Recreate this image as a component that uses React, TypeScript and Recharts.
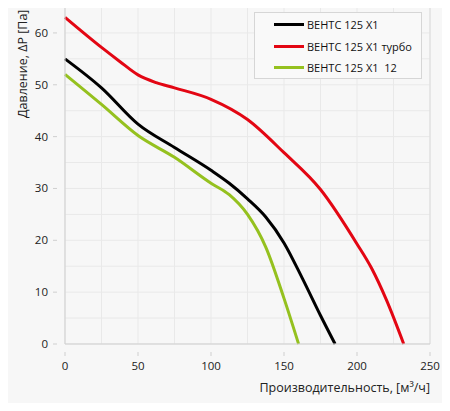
import React from "react";
import {
  LineChart,
  Line,
  XAxis,
  YAxis,
  CartesianGrid,
  ReferenceLine,
} from "recharts";

// Performance curves (flow m³/h -> pressure Pa)
const baseFlow = [0, 25, 50, 75, 100, 112.5, 125, 137.5, 150, 162.5, 175, 185];
const basePressure = [55, 49.4, 42.4, 37.9, 33.5, 31, 28, 24.5, 19.5, 12.7, 5.5, 0];

const turboFlow = [0, 25, 37.5, 50, 62.5, 75, 100, 125, 150, 175, 200, 210, 220, 232];
const turboPressure = [63, 57.2, 54.5, 51.9, 50.4, 49.4, 47.2, 43.3, 36.9, 29.8, 19.3, 14.6, 8.6, 0];

const v12Flow = [0, 25, 50, 75, 100, 112.5, 125, 137.5, 150, 160];
const v12Pressure = [52, 46.2, 40.2, 36, 31, 28.8, 25, 18.7, 8.8, 0];

const seriesNames = ["ВЕНТС 125 Х1", "ВЕНТС 125 Х1 турбо", "ВЕНТС 125 Х1  12"];
const seriesColors = ["#000000", "#e30613", "#95c11f"];

const xTicks = [0, 25, 50, 75, 100, 125, 150, 175, 200, 225, 250];
const yTicks = [0, 5, 10, 15, 20, 25, 30, 35, 40, 45, 50, 55, 60];

const FONT = "'Open Sans', sans-serif";
const BG = "#f7f7f7";
const AXIS = "#cfcfcf";

const toPoints = (flow: number[], pressure: number[]) =>
  flow.map((q, i) => ({ q, p: pressure[i] }));

const seriesData = [
  toPoints(baseFlow, basePressure),
  toPoints(turboFlow, turboPressure),
  toPoints(v12Flow, v12Pressure),
];

function XTick(props: any) {
  const { x, y, payload } = props;
  if (payload.value % 50 !== 0) return null;
  return (
    <g>
      <line x1={x} y1={y} x2={x} y2={y + 4} stroke={AXIS} />
      <text x={x} y={y + 18} textAnchor="middle" fontSize={11.5} fill="#222" fontFamily={FONT}>
        {payload.value}
      </text>
    </g>
  );
}

function YTick(props: any) {
  const { x, y, payload } = props;
  if (payload.value % 10 !== 0) return null;
  return (
    <g>
      <line x1={x} y1={y} x2={x - 4} y2={y} stroke={AXIS} />
      <text x={x - 9} y={y + 4} textAnchor="end" fontSize={11.5} fill="#222" fontFamily={FONT}>
        {payload.value}
      </text>
    </g>
  );
}

function LegendBox() {
  return (
    <div
      style={{
        position: "absolute",
        left: 254,
        top: 12,
        border: "1px solid #d6d6d6",
        background: "#f9f9f9",
        width: 168,
        height: 67,
        boxSizing: "border-box",
        padding: "1px 0 0 19px",
        fontFamily: FONT,
        fontSize: 11,
        color: "#111",
      }}
    >
      {seriesNames.map((name, i) => (
        <div key={name} style={{ display: "flex", alignItems: "center", height: 21.5, whiteSpace: "pre" }}>
          <span
            style={{
              display: "inline-block",
              width: 30,
              height: 3,
              background: seriesColors[i],
              marginRight: 3,
            }}
          />
          {name}
        </div>
      ))}
    </div>
  );
}

export default function App() {
  return (
    <div style={{ margin: -8, width: 450, height: 411, background: BG, position: "relative" }}>
      <LineChart
        width={450}
        height={411}
        margin={{ top: 7, right: 20, left: 0, bottom: 0 }}
        style={{ background: BG }}
      >
        <CartesianGrid stroke="#e9e9e9" vertical horizontal />
        <XAxis
          type="number"
          dataKey="q"
          domain={[0, 250]}
          ticks={xTicks}
          interval={0}
          tick={<XTick />}
          tickLine={false}
          stroke={AXIS}
          height={67}
          allowDuplicatedCategory={false}
          label={{
            content: () => (
              <text x={430} y={392} textAnchor="end" fontSize={12.5} fill="#222" fontFamily={FONT}>
                Производительность, [м³/ч]
              </text>
            ),
          }}
        />
        <YAxis
          type="number"
          domain={[0, 65]}
          ticks={yTicks}
          interval={0}
          tick={<YTick />}
          tickLine={false}
          stroke={AXIS}
          width={65}
          label={{
            content: () => (
              <g transform="translate(27 118) rotate(-90)">
                <text x={0} y={0} textAnchor="start" fontSize={12.5} fill="#222" fontFamily={FONT}>
                  Давление, ΔP [Па]
                </text>
              </g>
            ),
          }}
        />
        <ReferenceLine y={65} stroke="#dcdcdc" />
        <ReferenceLine x={250} stroke="#dcdcdc" />
        {seriesData.map((d, i) => (
          <Line
            key={seriesNames[i]}
            data={d}
            dataKey="p"
            name={seriesNames[i]}
            type="monotone"
            stroke={seriesColors[i]}
            strokeWidth={3}
            dot={false}
            isAnimationActive={false}
          />
        ))}
      </LineChart>
      <LegendBox />
    </div>
  );
}
